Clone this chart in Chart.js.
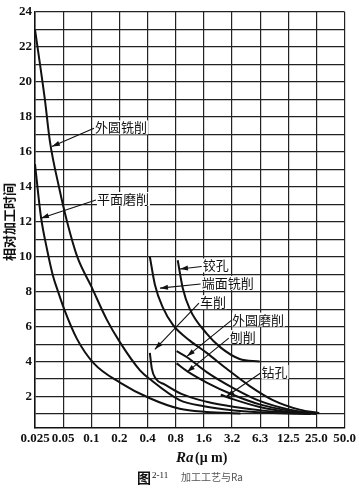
<!DOCTYPE html>
<html>
<head>
<meta charset="utf-8">
<script src="https://cdn.jsdelivr.net/npm/chart.js@4/dist/chart.umd.min.js"></script>
<style>
  html, body { margin: 0; padding: 0; background: #fff; }
  #wrap { width: 359px; height: 488px; }
</style>
</head>
<body>
<div id="wrap"><canvas id="chart" width="359" height="488" style="width:359px;height:488px"></canvas></div>
<script>
// Ra tick labels (x axis is one grid step per label)
const raLabels = ['0.025', '0.05', '0.1', '0.2', '0.4', '0.8', '1.6', '3.2', '6.3', '12.5', '25.0', '50.0'];
const yMax = 24;

// Curves: x = position on the Ra grid (0 = 0.025, 1 = 0.05, ...), y = relative machining time
const cylMillX = [0, 0.35, 0.53, 0.85, 1.14, 1.5, 2.0, 2.55, 3.02, 3.73, 4.08, 5.14, 6, 7, 8, 9, 9.8];
const cylMillY = [23, 19.0, 16.6, 14, 12, 10, 8.3, 6.4, 5.1, 3.5, 3.0, 1.8, 1.45, 1.22, 1.1, 1.03, 1.0];

const surfGrindX = [0, 0.21, 0.43, 0.64, 0.82, 1.06, 1.49, 2.09, 3.02, 4.08, 5.14, 6.1, 7.3];
const surfGrindY = [15.3, 12.3, 10.4, 8.9, 8.0, 6.9, 5.3, 3.9, 2.8, 1.9, 1.3, 1.12, 1.03];

const reamX = [5.07, 5.25, 5.5, 6.1, 6.6, 7.27, 7.98];
const reamY = [9.8, 8.2, 7.0, 5.6, 4.8, 4.15, 4.0];

const faceMillX = [4.08, 4.26, 4.54, 4.9, 5.5, 6.1, 6.8, 7.63, 8.45, 9.4, 10.1];
const faceMillY = [10, 8.4, 7.1, 6.1, 5.2, 4.5, 3.6, 2.6, 1.8, 1.25, 1.05];

const turnX = [4.08, 4.15, 4.3, 4.6, 5.2, 6.1, 7.1, 8.2, 9.4, 10];
const turnY = [4.5, 3.6, 3.0, 2.7, 2.15, 1.7, 1.4, 1.18, 1.05, 1.0];

const cylGrindX = [5.03, 5.4, 6.1, 7.03, 7.98, 9.05, 9.87];
const cylGrindY = [4.6, 4.25, 3.4, 2.5, 1.75, 1.25, 1.05];

const planeX = [5.03, 5.4, 6.1, 7.03, 7.98, 9.05, 9.8];
const planeY = [3.9, 3.45, 2.8, 2.1, 1.55, 1.18, 1.02];

const drillX = [6.6, 7.03, 7.98, 9.05, 9.8];
const drillY = [2.1, 1.85, 1.4, 1.1, 1.0];

// Curve labels with arrows: label anchor and arrow tip, in chart units
const noteNames = ['外圆铣削', '平面磨削', '铰孔', '端面铣削', '车削', '外圆磨削', '刨削', '钻孔'];
const noteAt = [[2.13, 17.4], [2.2, 13.3], [5.96, 9.5], [5.92, 8.5], [5.86, 7.4], [7.0, 6.4], [6.92, 5.4], [8.05, 3.4]];
const noteTip = [[0.6, 16.3], [0.21, 12.2], [5.15, 9.3], [4.44, 8.2], [4.26, 4.7], [5.4, 4.3], [5.4, 3.4], [6.8, 2.0]];

function toPoints(xs, ys) {
    return xs.map((v, i) => ({ x: v, y: ys[i] }));
}

function curve(xs, ys) {
    return {
        data: toPoints(xs, ys),
        borderColor: '#111',
        borderWidth: 2,
        pointRadius: 0,
        fill: false,
        cubicInterpolationMode: 'monotone'
    };
}

// Arrows, curve names, axis titles and caption
const notesPlugin = {
    id: 'notes',
    afterDraw(chart) {
        const { ctx, scales: { x, y } } = chart;
        ctx.save();
        ctx.font = '13px "Noto Sans CJK SC"';
        ctx.textBaseline = 'middle';
        ctx.textAlign = 'left';
        ctx.strokeStyle = '#111';
        ctx.fillStyle = '#111';
        ctx.lineWidth = 1.1;
        noteNames.forEach((name, i) => {
            const tx = x.getPixelForValue(noteAt[i][0]);
            const ty = y.getPixelForValue(noteAt[i][1]);
            const px = x.getPixelForValue(noteTip[i][0]);
            const py = y.getPixelForValue(noteTip[i][1]);
            const sx = tx - 1, sy = ty + 1;
            ctx.beginPath();
            ctx.moveTo(sx, sy);
            ctx.lineTo(px, py);
            ctx.stroke();
            const a = Math.atan2(py - sy, px - sx);
            ctx.beginPath();
            ctx.moveTo(px, py);
            ctx.lineTo(px - 8 * Math.cos(a) + 2.5 * Math.sin(a), py - 8 * Math.sin(a) - 2.5 * Math.cos(a));
            ctx.lineTo(px - 8 * Math.cos(a) - 2.5 * Math.sin(a), py - 8 * Math.sin(a) + 2.5 * Math.cos(a));
            ctx.closePath();
            ctx.fill();
            const w = ctx.measureText(name).width;
            ctx.fillStyle = '#fff';
            ctx.fillRect(tx, ty - 7, w + 1, 14);
            ctx.fillStyle = '#111';
            ctx.fillText(name, tx, ty);
        });

        // y axis title
        ctx.save();
        ctx.translate(9, 222);
        ctx.rotate(-Math.PI / 2);
        ctx.textAlign = 'center';
        ctx.font = 'bold 13px "Noto Sans CJK SC"';
        ctx.fillText('相对加工时间', 0, 0);
        ctx.restore();

        // x axis title
        ctx.textAlign = 'left';
        ctx.font = 'italic bold 15px "Liberation Serif"';
        ctx.fillText('Ra', 176, 458);
        ctx.font = 'bold 14px "Liberation Serif"';
        ctx.fillText('(μ m)', 195, 458);

        // caption
        ctx.font = 'bold 14px "Noto Sans CJK SC"';
        ctx.fillText('图', 137, 478);
        ctx.font = '9px "Liberation Serif"';
        ctx.fillText('2-11', 152, 476);
        ctx.fillStyle = '#555';
        ctx.font = '10px "Noto Sans CJK SC"';
        ctx.fillText('加工工艺与Ra', 181, 477);
        ctx.restore();
    }
};

const tickFont = { family: 'Liberation Serif', size: 13, weight: 'bold' };

new Chart(document.getElementById('chart'), {
    type: 'line',
    data: {
        datasets: [
            curve(cylMillX, cylMillY),
            curve(surfGrindX, surfGrindY),
            curve(reamX, reamY),
            curve(faceMillX, faceMillY),
            curve(turnX, turnY),
            curve(cylGrindX, cylGrindY),
            curve(planeX, planeY),
            curve(drillX, drillY)
        ]
    },
    options: {
        responsive: false,
        animation: false,
        devicePixelRatio: 1,
        layout: { padding: { top: 12, right: 14, left: 0, bottom: 0 } },
        plugins: {
            legend: { display: false },
            tooltip: { enabled: false }
        },
        scales: {
            x: {
                type: 'linear',
                min: 0,
                max: raLabels.length - 1,
                afterFit(s) { s.height = 60; },
                afterBuildTicks(s) { s.ticks = raLabels.map((_, i) => ({ value: i })); },
                ticks: {
                    autoSkip: false,
                    maxRotation: 0,
                    padding: 3,
                    color: '#111',
                    font: tickFont,
                    callback: v => raLabels[v]
                },
                grid: { color: '#222', lineWidth: 1.2, drawTicks: false },
                border: { color: '#111', width: 1.5 }
            },
            y: {
                type: 'linear',
                min: 0.2,
                max: yMax,
                afterFit(s) { s.width = 35; },
                afterBuildTicks(s) {
                    const t = [];
                    for (let v = 1; v <= yMax; v++) t.push({ value: v });
                    s.ticks = t;
                },
                ticks: {
                    autoSkip: false,
                    padding: 3,
                    color: '#111',
                    font: tickFont,
                    callback: v => (v % 2 === 0 ? v : '')
                },
                grid: { color: '#222', lineWidth: 1.2, drawTicks: false },
                border: { color: '#111', width: 1.5 }
            }
        }
    },
    plugins: [notesPlugin]
});
</script>
</body>
</html>
